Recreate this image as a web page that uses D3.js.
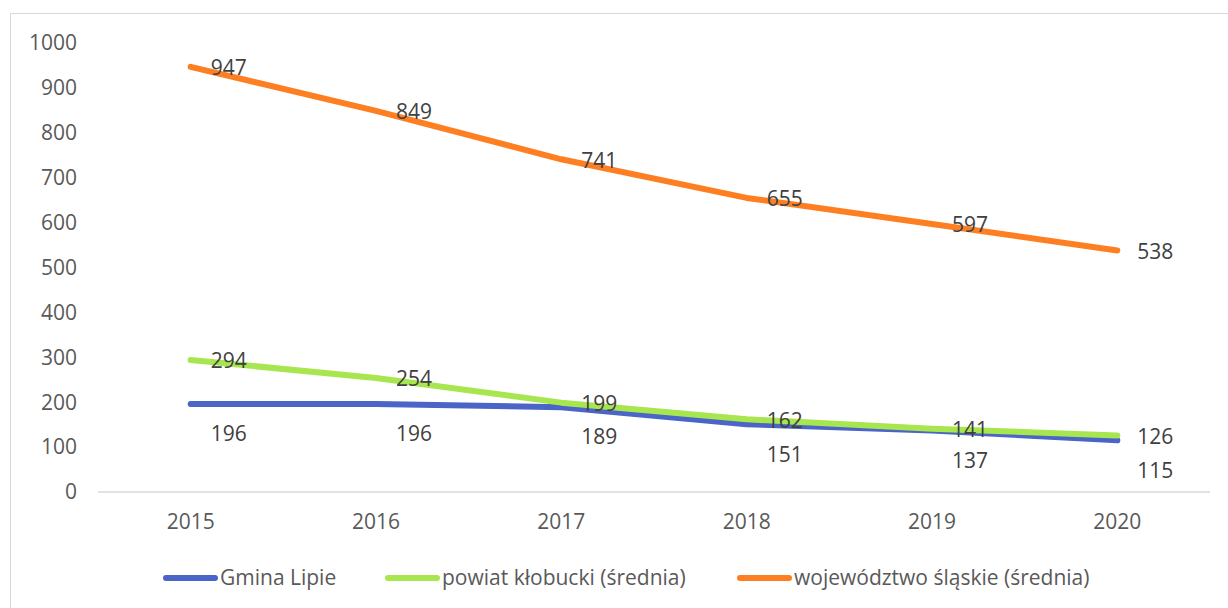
<!DOCTYPE html>
<html>
<head>
<meta charset="utf-8">
<script src="https://cdn.jsdelivr.net/npm/d3@7"></script>
<style>
  body { margin: 0; background: #fff; }
  svg text { font-family: "Open Sans", sans-serif; }
</style>
</head>
<body>
<svg id="chart" width="1228" height="608"></svg>
<script>
// dane
const years = ["2015", "2016", "2017", "2018", "2019", "2020"];
const gminaLipie = [196, 196, 189, 151, 137, 115];
const powiatKlobucki = [294, 254, 199, 162, 141, 126];
const wojSlaskie = [947, 849, 741, 655, 597, 538];
const yTicks = [0, 100, 200, 300, 400, 500, 600, 700, 800, 900, 1000];

const series = [
  { name: "Gmina Lipie", values: gminaLipie, color: "#4a64c8", below: true },
  { name: "powiat kłobucki (średnia)", values: powiatKlobucki, color: "#a7e64e", below: false },
  { name: "województwo śląskie (średnia)", values: wojSlaskie, color: "#fd7f22", below: false }
];

const fontSize = 21;
const svg = d3.select("#chart");

// ramka wykresu
svg.append("rect")
  .attr("x", 10.5).attr("y", 13.5)
  .attr("width", 1240).attr("height", 620)
  .attr("fill", "none").attr("stroke", "#d9d9d9");

const x = d3.scalePoint().domain(years).range([98, 1210]).padding(0.5);
const y = d3.scaleLinear().domain([0, 1000]).range([492, 43]);

// oś Y (tylko etykiety)
svg.append("g")
  .selectAll("text")
  .data(yTicks)
  .join("text")
  .attr("x", 77)
  .attr("y", d => y(d))
  .attr("dy", "0.35em")
  .attr("text-anchor", "end")
  .attr("font-size", fontSize)
  .attr("fill", "#595959")
  .text(d => d);

// oś X
svg.append("line")
  .attr("x1", 98).attr("x2", 1210)
  .attr("y1", y(0)).attr("y2", y(0))
  .attr("stroke", "#d9d9d9").attr("stroke-width", 1.5);

svg.append("g")
  .selectAll("text")
  .data(years)
  .join("text")
  .attr("x", d => x(d))
  .attr("y", 522)
  .attr("dy", "0.35em")
  .attr("text-anchor", "middle")
  .attr("font-size", fontSize)
  .attr("fill", "#595959")
  .text(d => d);

// linie
const line = d3.line()
  .x((d, i) => x(years[i]))
  .y(d => y(d));

series.forEach(s => {
  svg.append("path")
    .datum(s.values)
    .attr("d", line)
    .attr("fill", "none")
    .attr("stroke", s.color)
    .attr("stroke-width", 6)
    .attr("stroke-linecap", "round")
    .attr("stroke-linejoin", "round");
});

// etykiety danych
series.forEach(s => {
  svg.append("g")
    .selectAll("text")
    .data(s.values)
    .join("text")
    .attr("x", (d, i) => x(years[i]) + 20)
    .attr("y", d => y(d) + (s.below ? 30 : 1))
    .attr("dy", "0.35em")
    .attr("font-size", fontSize)
    .attr("fill", "#404040")
    .text(d => d);
});

// legenda
const legendX = [163, 385, 737];
const legend = svg.append("g");
series.forEach((s, i) => {
  legend.append("line")
    .attr("x1", legendX[i] + 3).attr("x2", legendX[i] + 52)
    .attr("y1", 578).attr("y2", 578)
    .attr("stroke", s.color)
    .attr("stroke-width", 6)
    .attr("stroke-linecap", "round");
  legend.append("text")
    .attr("x", legendX[i] + 57)
    .attr("y", 578)
    .attr("dy", "0.35em")
    .attr("font-size", fontSize)
    .attr("fill", "#595959")
    .text(s.name);
});
</script>
</body>
</html>
